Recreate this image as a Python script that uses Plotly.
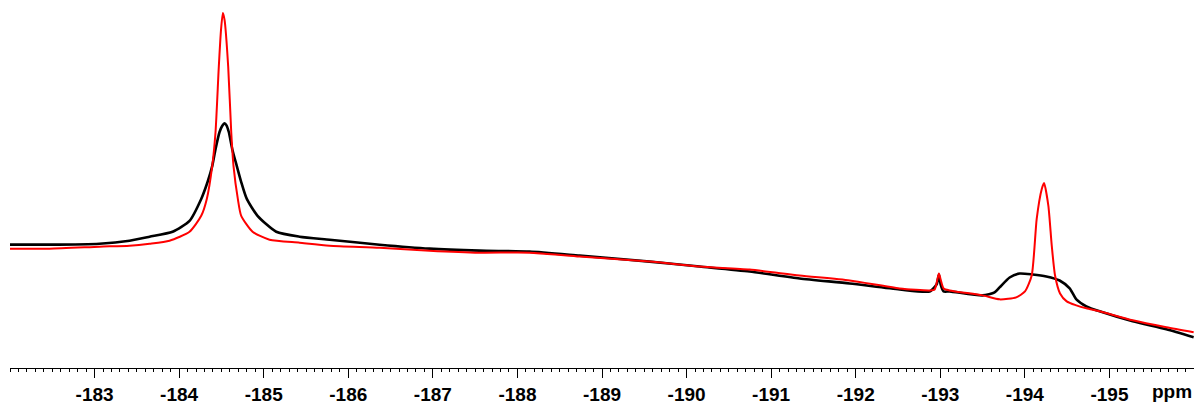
import plotly.graph_objects as go

# 19F NMR traces (chemical shift in ppm, intensity in arbitrary units)
black_ppm = [-182.000, -182.467, -183.058, -183.413, -183.650, -183.922, -184.123,
             -184.261, -184.336, -184.391, -184.430, -184.477, -184.507, -184.537,
             -184.560, -184.588, -184.628, -184.682, -184.734, -184.800, -184.927,
             -185.148, -185.424, -185.779, -186.370, -186.961, -187.552, -188.144,
             -188.735, -189.563, -190.154, -190.745, -191.336, -191.928, -192.519,
             -192.874, -192.957, -192.984, -193.004, -193.039, -193.110, -193.500,
             -193.642, -193.701, -193.820, -193.938, -194.092, -194.254, -194.411,
             -194.530, -194.609, -194.727, -194.884, -195.275, -195.673, -195.996]
black_int = [124, 124, 125, 128, 132, 137, 148,
             170, 187, 203, 220, 237, 243, 246,
             244, 237, 220, 203, 187, 170, 153,
             137, 132, 129, 124, 120, 118, 117,
             113, 107, 102, 97, 90, 85, 79,
             77, 84, 94, 84, 77, 77, 73,
             76, 81, 91, 95, 94, 92, 88,
             80, 69, 62, 57, 47, 39, 31]

red_ppm = [-182.000, -182.467, -183.058, -183.413, -183.650, -183.886, -184.123,
           -184.261, -184.327, -184.391, -184.430, -184.469, -184.495, -184.517,
           -184.537, -184.580, -184.616, -184.643, -184.694, -184.734, -184.868,
           -185.069, -185.424, -185.779, -186.370, -186.961, -187.552, -188.144,
           -188.735, -189.563, -190.154, -190.745, -191.336, -191.928, -192.519,
           -192.874, -192.933, -192.963, -192.984, -193.004, -193.039, -193.110,
           -193.500, -193.701, -193.898, -194.002, -194.081, -194.140, -194.200,
           -194.227, -194.278, -194.318, -194.357, -194.416, -194.495, -194.609,
           -194.727, -194.884, -195.275, -195.673, -195.996]
red_int = [120, 120, 122, 123, 125, 128, 137,
           153, 170, 203, 237, 303, 340, 357,
           350, 303, 237, 203, 170, 153, 137,
           129, 126, 123, 121, 118, 116, 116,
           112, 107, 102, 99, 93, 88, 80,
           78, 79, 88, 95, 89, 80, 78,
           73, 69, 71, 77, 93, 150, 180,
           186, 163, 123, 93, 75, 67, 63,
           60, 57, 48, 41, 36]

tick_vals = [-183, -184, -185, -186, -187, -188, -189, -190, -191, -192, -193, -194, -195]
tick_labels = ["-183", "-184", "-185", "-186", "-187", "-188", "-189",
               "-190", "-191", "-192", "-193", "-194", "-195"]

fig = go.Figure()
fig.add_trace(go.Scatter(x=black_ppm, y=black_int, mode="lines",
                         line=dict(color="#000000", width=2.6, shape="spline", smoothing=0.6),
                         showlegend=False, hoverinfo="skip"))
fig.add_trace(go.Scatter(x=red_ppm, y=red_int, mode="lines",
                         line=dict(color="#ff0000", width=2.0, shape="spline", smoothing=0.6),
                         showlegend=False, hoverinfo="skip"))

label_font = dict(family="Liberation Sans, Arial, sans-serif", size=19, color="#000000")

fig.update_layout(
    width=1194, height=405,
    margin=dict(l=10, r=0, t=0, b=35),
    paper_bgcolor="white", plot_bgcolor="white",
    xaxis=dict(
        range=[-182.0, -196.0],
        showgrid=False, zeroline=False,
        showline=True, linecolor="#000000", linewidth=1,
        ticks="outside", ticklen=9, tickwidth=1, tickcolor="#000000",
        tickvals=tick_vals, ticktext=[f"<b>{t}</b>" for t in tick_labels],
        tickfont=label_font,
        minor=dict(dtick=0.1, ticks="outside", ticklen=3, tickwidth=1, tickcolor="#000000"),
    ),
    yaxis=dict(range=[0, 370], visible=False),
)

# unit label below the right end of the axis
fig.add_annotation(x=(1172 - 10) / 1184, y=-(394 - 370) / 370, xref="paper", yref="paper",
                   text="<b>ppm</b>", showarrow=False, font=label_font,
                   xanchor="center", yanchor="middle")

fig.write_html("out.html")
